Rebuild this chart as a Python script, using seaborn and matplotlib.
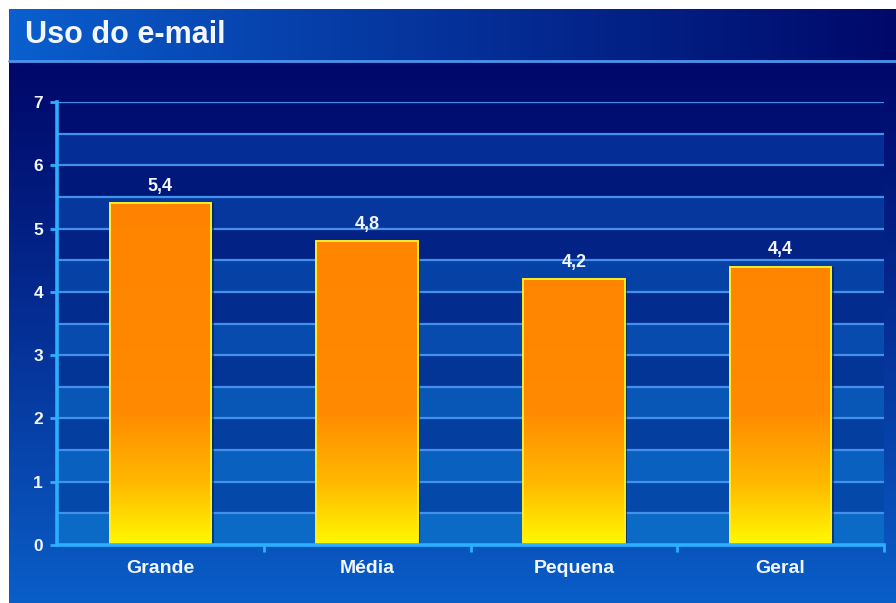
import numpy as np
import pandas as pd
import matplotlib
matplotlib.use("Agg")
import matplotlib.pyplot as plt
from matplotlib.colors import LinearSegmentedColormap, to_rgb
from matplotlib.patches import Rectangle
import seaborn as sns

# Data
categories = ["Grande", "Média", "Pequena", "Geral"]
values = [5.4, 4.8, 4.2, 4.4]
value_labels = ["5,4", "4,8", "4,2", "4,4"]
y_ticks = [0, 1, 2, 3, 4, 5, 6, 7]
title = "Uso do e-mail"

df = pd.DataFrame({"porte": categories, "valor": values})

sns.set_theme(style="white")
plt.rcParams["font.family"] = ["Liberation Sans", "DejaVu Sans"]
plt.rcParams["font.weight"] = "bold"

W, H = 896, 603
fig = plt.figure(figsize=(W / 100, H / 100), dpi=100)
fig.patch.set_facecolor("white")

# ---- background layer (title bar + body gradient) ----
bg = fig.add_axes([0, 0, 1, 1], zorder=0)
bg.axis("off")

def lerp(c0, c1, t):
    c0, c1 = np.array(to_rgb(c0)), np.array(to_rgb(c1))
    return c0 + (c1 - c0) * t

# title bar: horizontal gradient
tb = np.linspace(0, 1, 256)
tb_img = np.array([lerp("#0a60d0", "#00096a", t ** 0.9) for t in tb])[None, :, :]
bg.imshow(tb_img, extent=[9, W, 61, 9], aspect="auto", interpolation="bicubic")
bg.plot([9, W], [61, 61], color="#4a94ec", lw=2)

# body: vertical gradient
vb = np.linspace(0, 1, 256)
vb_img = np.array([lerp("#00086a", "#0a5ec8", t ** 1.1) for t in vb])[:, None, :]
bg.imshow(vb_img, extent=[9, W, H, 62], aspect="auto", interpolation="bicubic")
bg.set_xlim(0, W)
bg.set_ylim(H, 0)

fig.text(25 / W, 1 - 35 / H, title, color="#f2f6ff", fontsize=22,
         fontweight="bold", ha="left", va="center")

# ---- chart axes ----
x0_px, x1_px = 57, 884
y0_px, y7_px = 545, 102
ax = fig.add_axes([x0_px / W, (H - y0_px) / H, (x1_px - x0_px) / W,
                   (y0_px - y7_px) / H], zorder=1)
ax.patch.set_alpha(0)

sns.barplot(data=df, x="porte", y="valor", ax=ax, width=0.49,
            color="#ff8000", saturation=1, zorder=3)
bars = list(ax.patches)

ax.set_xlim(-0.5, 3.5)
ax.set_ylim(0, 7)

# alternating horizontal bands
n_bands = 14
for k in range(n_bands):
    lo, hi = k * 0.5, (k + 1) * 0.5
    t = (lo + 0.25) / 7.0
    if k % 2 == 0:
        col = lerp("#0a6cc8", "#03268f", t)
    else:
        col = lerp("#0550b0", "#000c70", t)
    ax.axhspan(lo, hi, facecolor=col, edgecolor="none", zorder=0.5, lw=0)
for k in range(1, n_bands + 1):
    ax.axhline(k * 0.5, color="#4490ea", lw=1.6, zorder=1)

# bar gradient: yellow at the base blending to orange
grad_cmap = LinearSegmentedColormap.from_list(
    "bar", [(0.0, "#fffa00"), (0.07, "#ffd800"), (0.14, "#ffb800"),
            (0.30, "#ff8a00"), (1.0, "#ff8000")])
grad = np.linspace(0, 1, 512)[:, None]
for p in bars:
    bx, by = p.get_x(), p.get_y()
    bw, bh = p.get_width(), p.get_height()
    # dark shadow on the right side
    sh = Rectangle((bx + bw, by), 0.012, bh, facecolor="#02204a", alpha=0.6,
                   edgecolor="none", zorder=2.5, lw=0)
    ax.add_patch(sh)
    im = ax.imshow(grad, cmap=grad_cmap, extent=[bx, bx + bw, 0, 7],
                   origin="lower", aspect="auto", zorder=3.2,
                   interpolation="bicubic")
    im.set_clip_path(p)
    p.set_facecolor("none")
    p.set_edgecolor("#ffee22")
    p.set_linewidth(1.4)
    p.set_zorder(3.5)

ax.set_xlim(-0.5, 3.5)
ax.set_ylim(0, 7)

for i, (v, lab) in enumerate(zip(values, value_labels)):
    ax.annotate(lab, (i, v), xytext=(0, 6), textcoords="offset points",
                ha="center", va="bottom", color="#f2f6ff", fontsize=13,
                fontweight="bold", zorder=5)

# axes styling
axis_col = "#2ab0ff"
for s in ["top", "right"]:
    ax.spines[s].set_visible(False)
for s in ["left", "bottom"]:
    ax.spines[s].set_color(axis_col)
    ax.spines[s].set_linewidth(2.6)
    ax.spines[s].set_zorder(4)

ax.set_yticks(y_ticks)
ax.set_yticklabels([str(t) for t in y_ticks])
ax.set_xticks(range(len(categories)))
ax.set_xticklabels(categories)
ax.tick_params(axis="y", which="major", direction="out", length=5, width=2,
               color=axis_col, labelcolor="#f2f6ff", labelsize=12.5, pad=5,
               left=True)
ax.tick_params(axis="x", which="major", length=0, labelcolor="#f2f6ff",
               labelsize=14, pad=11, bottom=True)
ax.set_xticks([0.5, 1.5, 2.5, 3.5], minor=True)
ax.tick_params(axis="x", which="minor", direction="out", length=5, width=2,
               color=axis_col, bottom=True)
for lab in ax.get_xticklabels() + ax.get_yticklabels():
    lab.set_fontweight("bold")
ax.set_xlabel("")
ax.set_ylabel("")
ax.grid(False)

fig.savefig("out.png", dpi=100, facecolor=fig.get_facecolor())
